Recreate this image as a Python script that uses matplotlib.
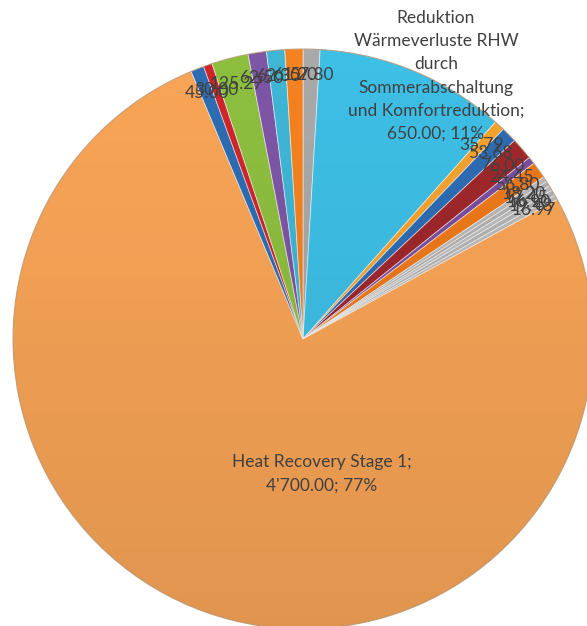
import numpy as np
import matplotlib
matplotlib.use("Agg")
import matplotlib.pyplot as plt
from matplotlib.patches import Circle

plt.rcParams['font.family'] = ['Lato', 'DejaVu Sans']

# Savings measures, clockwise from 12 o'clock
categories = [
    "Massnahme A", "Reduktion Wärmeverluste RHW durch Sommerabschaltung und Komfortreduktion",
    "Massnahme C", "Massnahme D", "Massnahme E", "Massnahme F", "Massnahme G",
    "Massnahme H1", "Massnahme H2", "Massnahme H3", "Massnahme H4", "Massnahme H5",
    "Heat Recovery Stage 1",
    "Massnahme J", "Massnahme K", "Massnahme L", "Massnahme M", "Massnahme N", "Massnahme O",
]
values = [
    57.80, 650.00,
    35.79, 53.68, 76.00, 24.45, 56.80,
    18.20, 17.45, 16.90, 19.48, 16.97,
    4700.00,
    45.00, 30.00, 125.27, 62.50, 62.30, 61.20,
]
colors = [
    "#A9A9A9", "#3EBFE6",
    "#F6A32E", "#2E6DB4", "#A0282C", "#7B4FA0", "#EE7A1A",
    "#B9B9B9", "#B0B0B0", "#BDBDBD", "#B4B4B4", "#BBBBBB",
    "#F9A557",
    "#2E6DB4", "#D0262B", "#8DBF3F", "#7E56A6", "#3FB6D6", "#F58220",
]
# slices that carry their own long label
named = {1, 12}

W, H = 587, 626
fig = plt.figure(figsize=(W / 100, H / 100), dpi=100)
ax = fig.add_axes([0, 0, 1, 1])

cx, cy, R = 303, H - 339, 290
wedges, _ = ax.pie(values, colors=colors, startangle=90, counterclock=False,
                   center=(cx, cy), radius=R, frame=True,
                   wedgeprops=dict(edgecolor=(1, 1, 1, 0.6), linewidth=0.6))
ax.set_xlim(0, W)
ax.set_ylim(0, H)
ax.set_aspect("equal")
ax.axis("off")

# soft top-to-bottom shading over the pie
clip = Circle((cx, cy), R, transform=ax.transData, facecolor="none", edgecolor="none")
ax.add_patch(clip)
ramp = np.zeros((256, 1, 4))
ramp[:, 0, 3] = np.linspace(0.0, 0.10, 256)
im = ax.imshow(ramp, extent=(cx - R, cx + R, cy - R, cy + R), origin="upper",
               aspect="auto", zorder=3, interpolation="bilinear")
im.set_clip_path(clip)
ax.add_patch(Circle((cx, cy), R, facecolor="none", edgecolor="#9a6a3c",
                    linewidth=0.8, alpha=0.55, zorder=4))

total = sum(values)
txt = "#404040"
fs = 12.5

# value labels for the small slices, just inside the rim
for i, w in enumerate(wedges):
    if i in named:
        continue
    mid = np.deg2rad((w.theta1 + w.theta2) / 2)
    r = 0.91 * R
    ax.text(cx + r * np.cos(mid), cy + r * np.sin(mid), f"{values[i]:.2f}",
            ha="center", va="center", color=txt, fontsize=fs, zorder=5)


def fmt(v):
    return f"{v:,.2f}".replace(",", "'")


i = 1
ax.text(436, H - 76,
        "Reduktion\nWärmeverluste RHW\ndurch\nSommerabschaltung\nund Komfortreduktion;\n"
        f"{fmt(values[i])}; {values[i] / total * 100:.0f}%",
        ha="center", va="center", color=txt, fontsize=fs, linespacing=1.55, zorder=5)
i = 12
ax.text(322, H - 474,
        f"Heat Recovery Stage 1;\n{fmt(values[i])}; {values[i] / total * 100:.0f}%",
        ha="center", va="center", color=txt, fontsize=fs, linespacing=1.6, zorder=5)

fig.savefig("out.png", dpi=100)
